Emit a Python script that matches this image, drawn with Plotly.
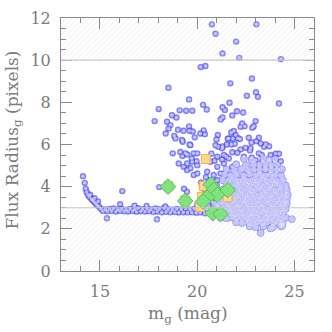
import plotly.graph_objects as go

# magnitude / flux-radius ranges of the plot
mag_range = [13, 26]
rad_range = [0, 12]
# radius zones flagged as unreliable (hatched)
bad_zones = [(0, 3), (10, 12)]

# stellar locus: head of the sequence (bright, saturated)
head_mag = [14.13, 14.22, 14.27, 14.32, 14.38, 14.45, 14.50, 14.56, 14.62, 14.70,
            14.78, 14.86, 14.95, 14.72, 14.90]
head_rad = [4.50, 4.18, 3.90, 3.75, 3.62, 3.52, 3.62, 3.42, 3.35, 3.28,
            3.20, 3.12, 3.05, 3.45, 3.30]

# stellar locus, upper and lower edge of the band
band_top_mag = [15.05, 15.28, 15.50, 15.70, 15.92, 16.12, 16.35, 16.55, 16.78, 16.95,
                17.20, 17.42, 17.62, 17.85, 18.05, 18.30, 18.50, 18.72, 18.95, 19.18,
                19.40, 19.62, 19.85, 20.05, 20.30]
band_top_rad = [2.95, 2.92, 2.94, 2.97, 2.92, 2.94, 2.91, 2.94, 2.92, 2.98,
                2.93, 2.96, 2.92, 2.97, 2.93, 2.98, 2.93, 2.91, 2.94, 2.92,
                2.95, 2.92, 2.94, 2.93, 2.95]
band_low_mag = [15.15, 15.38, 15.60, 15.82, 16.02, 16.25, 16.45, 16.68, 16.88, 17.10,
                17.32, 17.52, 17.75, 17.95, 18.18, 18.40, 18.62, 18.85, 19.05, 19.28,
                19.50, 19.72, 19.95, 20.15, 20.40]
band_low_rad = [2.85, 2.83, 2.84, 2.82, 2.85, 2.83, 2.82, 2.84, 2.81, 2.83,
                2.82, 2.83, 2.80, 2.82, 2.79, 2.81, 2.79, 2.80, 2.77, 2.79,
                2.78, 2.79, 2.76, 2.78, 2.74]

# stray sources near the locus
stray_mag = [15.36, 16.04, 16.15, 17.93, 18.05, 16.78, 17.40, 18.36, 19.32, 19.47]
stray_rad = [2.50, 3.17, 3.79, 2.46, 3.98, 3.10, 3.08, 3.06, 3.90, 3.76]

# sparse large sources (radius > 7)
big_mag = [20.75, 23.04, 20.94, 22.00, 21.30, 22.16, 24.30, 20.18, 20.42, 22.81,
           21.70, 18.52, 23.02, 23.12, 22.55, 19.58, 24.20, 21.66, 20.30, 20.49,
           21.30, 21.42, 18.02, 19.10, 19.43, 19.75, 22.04, 22.36, 17.81, 18.70,
           18.93, 21.30, 21.20, 21.80, 23.00, 18.45, 22.31]
big_rad = [11.70, 11.70, 11.25, 10.88, 10.32, 10.11, 10.05, 9.67, 9.72, 9.13,
           8.90, 8.69, 8.48, 8.26, 8.31, 8.14, 7.95, 7.98, 7.88, 7.66,
           7.77, 7.64, 7.68, 7.62, 7.60, 7.60, 7.58, 7.52, 7.11, 7.39,
           7.28, 7.28, 7.19, 7.38, 7.11, 7.08, 7.00]

# resolved sources, radius 4.3 - 7
mid_mag = [18.62, 18.53, 18.38, 19.01, 19.30, 19.58, 19.61, 19.77, 18.82, 19.87,
           20.16, 20.39, 20.33, 21.06, 20.99, 19.25, 19.61, 18.74, 19.13, 19.48,
           19.82, 19.24, 19.72, 20.89, 21.28, 21.49, 21.08, 21.30, 20.73, 19.96,
           21.52, 21.57, 22.90, 22.83, 22.43, 22.23, 21.75, 21.88, 21.97, 22.09,
           22.19, 21.62, 21.75, 21.83, 22.65, 23.17, 22.79, 23.04, 23.26, 23.52,
           23.69, 21.93, 22.23, 22.48, 22.71, 21.80, 22.06, 23.17, 23.31, 23.77,
           24.03, 24.20, 23.69, 23.96, 24.29, 22.40, 22.80, 23.00, 23.35, 18.88,
           19.22, 19.65, 20.94, 21.28, 22.74, 23.43, 19.39, 19.05, 19.30, 19.48,
           20.00, 19.74, 20.00, 20.00, 19.82, 19.48, 19.65, 21.03, 21.37, 21.62,
           20.68, 21.03, 21.37, 21.80, 20.51, 20.85, 21.20, 21.03, 20.60]
mid_rad = [6.92, 6.76, 6.52, 6.70, 6.65, 6.86, 6.65, 6.62, 6.40, 6.34,
           6.52, 6.49, 6.67, 6.45, 6.24, 6.13, 6.00, 5.58, 5.65, 5.53,
           5.58, 5.45, 5.34, 5.23, 5.29, 5.42, 5.89, 5.91, 5.56, 5.21,
           6.00, 6.27, 6.87, 6.79, 6.87, 6.84, 6.57, 6.64, 6.45, 6.30,
           6.26, 6.29, 6.00, 6.29, 6.32, 6.32, 6.10, 6.16, 6.05, 6.00,
           5.92, 6.03, 5.77, 5.84, 5.72, 5.63, 5.61, 5.58, 5.50, 5.50,
           5.56, 5.56, 5.26, 5.18, 5.21, 5.42, 5.37, 5.26, 5.21, 6.29,
           6.21, 5.97, 5.97, 5.82, 5.82, 5.89, 5.58, 5.10, 4.94, 5.10,
           5.58, 5.18, 5.02, 4.63, 4.55, 4.79, 4.87, 5.42, 5.50, 5.34,
           5.18, 4.94, 5.10, 4.94, 4.71, 4.55, 4.63, 4.31, 4.31]

# sources around the candidates (mag 20 - 21)
near_mag = [20.45, 20.20, 20.90, 20.60, 21.00, 20.40, 20.75, 21.05, 20.55, 20.25, 20.00]
near_rad = [4.45, 4.20, 4.25, 3.90, 4.05, 3.70, 3.30, 3.45, 3.15, 3.20, 3.15]

# dense faint cloud, upper half
cloud_hi_mag = [22.40, 22.80, 23.40, 23.70, 24.00,
                22.00, 22.50, 22.90, 23.20, 23.50, 23.80, 24.10,
                21.50, 21.90, 22.30, 22.60, 22.90, 23.20, 23.50, 23.80, 24.10, 24.35,
                21.40, 21.70, 22.00, 22.40, 22.70, 23.00, 23.25, 23.50, 23.75, 24.00, 24.30,
                21.30, 21.60, 21.85, 22.10, 22.35, 22.60, 22.85, 23.10, 23.35, 23.60, 23.85, 24.10, 24.40,
                21.50, 21.75, 22.00, 22.25, 22.50, 22.75, 23.00, 23.25, 23.50, 23.75, 24.00, 24.25, 24.55,
                21.30, 21.80, 22.05, 22.30, 22.55, 22.80, 23.05, 23.30, 23.55, 23.80, 24.05, 24.30, 24.60]
cloud_hi_rad = [5.32, 5.28, 5.33, 5.27, 5.31,
                5.06, 5.02, 5.08, 5.03, 5.07, 5.01, 5.05,
                4.82, 4.78, 4.83, 4.79, 4.81, 4.77, 4.84, 4.80, 4.78, 4.83,
                4.57, 4.53, 4.56, 4.52, 4.58, 4.54, 4.56, 4.52, 4.57, 4.55, 4.53,
                4.31, 4.28, 4.33, 4.29, 4.32, 4.27, 4.31, 4.30, 4.33, 4.28, 4.32, 4.29, 4.31,
                4.09, 4.06, 4.10, 4.07, 4.09, 4.05, 4.10, 4.07, 4.08, 4.06, 4.10, 4.07, 4.06,
                3.86, 3.83, 3.87, 3.84, 3.86, 3.83, 3.87, 3.85, 3.84, 3.87, 3.83, 3.86, 3.84]

# dense faint cloud, lower half
cloud_lo_mag = [21.20, 21.45, 21.70, 21.95, 22.20, 22.45, 22.70, 22.95, 23.20, 23.45, 23.70, 23.95, 24.20, 24.45, 24.65,
                21.10, 21.35, 21.60, 21.85, 22.10, 22.35, 22.60, 22.85, 23.10, 23.35, 23.60, 23.85, 24.10, 24.35, 24.60,
                20.90, 21.15, 21.40, 21.65, 21.90, 22.15, 22.40, 22.65, 22.90, 23.15, 23.40, 23.65, 23.90, 24.15, 24.40, 24.60,
                20.55, 20.80, 21.05, 21.30, 21.55, 21.80, 22.05, 22.30, 22.55, 22.80, 23.05, 23.30, 23.55, 23.80, 24.05, 24.30, 24.55,
                20.65, 20.90, 21.15, 21.40, 21.65, 21.90, 22.15, 22.40, 22.65, 22.90, 23.15, 23.40, 23.65, 23.90, 24.15, 24.40,
                21.20, 21.50, 21.80, 22.05, 22.30, 22.55, 22.80, 23.05, 23.30, 23.55, 23.80, 24.05, 24.30, 24.55,
                22.00, 22.30, 22.60, 22.85, 23.10, 23.35, 23.60, 23.90, 24.15, 24.40,
                22.70, 23.00, 23.40, 23.90, 24.30,
                23.26, 24.86, 23.77, 24.37]
cloud_lo_rad = [3.63, 3.60, 3.64, 3.61, 3.63, 3.60, 3.64, 3.62, 3.60, 3.63, 3.61, 3.64, 3.60, 3.63, 3.61,
                3.41, 3.38, 3.42, 3.39, 3.41, 3.38, 3.42, 3.40, 3.38, 3.41, 3.39, 3.42, 3.38, 3.41, 3.39,
                3.19, 3.16, 3.20, 3.17, 3.19, 3.16, 3.20, 3.18, 3.16, 3.19, 3.17, 3.20, 3.16, 3.19, 3.17, 3.20,
                2.97, 2.94, 2.98, 2.95, 2.97, 2.94, 2.98, 2.95, 2.97, 2.94, 2.96, 2.98, 2.94, 2.97, 2.95, 2.98, 2.94,
                2.75, 2.72, 2.76, 2.73, 2.75, 2.72, 2.76, 2.74, 2.72, 2.75, 2.73, 2.76, 2.72, 2.75, 2.73, 2.76,
                2.53, 2.50, 2.54, 2.51, 2.53, 2.50, 2.54, 2.52, 2.50, 2.53, 2.51, 2.54, 2.50, 2.53,
                2.31, 2.28, 2.32, 2.29, 2.31, 2.28, 2.32, 2.29, 2.31, 2.28,
                2.11, 2.08, 2.12, 2.09, 2.11,
                1.80, 2.46, 2.02, 2.18]

# candidates: two selections
cand_sq_mag = [20.44, 18.52, 20.34, 20.25, 20.14, 19.38, 21.56]
cand_sq_rad = [5.31, 4.02, 4.03, 3.52, 3.04, 3.34, 3.50]
cand_di_mag = [18.50, 19.38, 20.70, 20.86, 21.02, 20.50, 20.30, 21.57, 20.80, 21.20]
cand_di_rad = [4.00, 3.32, 4.10, 3.86, 3.62, 3.48, 3.30, 3.84, 2.74, 2.70]

open_mag = (head_mag + band_top_mag + band_low_mag + stray_mag + big_mag + mid_mag
            + near_mag)
open_rad = (head_rad + band_top_rad + band_low_rad + stray_rad + big_rad + mid_rad
            + near_rad)
cloud_mag = cloud_hi_mag + cloud_lo_mag
cloud_rad = cloud_hi_rad + cloud_lo_rad

all_mag = open_mag + cloud_mag
all_rad = open_rad + cloud_rad
ring_size = [6.4] * len(open_mag) + [7.4] * len(cloud_mag)
fill_size = [3.5] * len(open_mag) + [6.2] * len(cloud_mag)

font = "DejaVu Serif"
grey = "#8a8a8a"
txt = "#7c7c7c"

fig = go.Figure()

# outline layer then fill layer, so overlapping circles merge
fig.add_trace(go.Scatter(x=all_mag, y=all_rad, mode="markers", showlegend=False,
                         marker=dict(size=ring_size, color="#4a4afa", line=dict(width=0))))
fig.add_trace(go.Scatter(x=all_mag, y=all_rad, mode="markers", showlegend=False,
                         marker=dict(size=fill_size, color="#e2e2fa", line=dict(width=0))))

# hatched zones, drawn over the points
for lo, hi in bad_zones:
    fig.add_trace(go.Scatter(
        x=[mag_range[0], mag_range[1], mag_range[1], mag_range[0], mag_range[0]],
        y=[lo, lo, hi, hi, lo], mode="lines", fill="toself",
        line=dict(width=0), hoverinfo="skip", showlegend=False,
        fillcolor="rgba(0,0,0,0)",
        fillpattern=dict(shape="/", fgcolor="#d6d6d6", bgcolor="rgba(0,0,0,0)",
                         size=4, solidity=0.22)))

fig.add_trace(go.Scatter(x=cand_sq_mag, y=cand_sq_rad, mode="markers", showlegend=False,
                         marker=dict(symbol="square", size=9, color="#f8d98e",
                                     line=dict(color="#f0b055", width=1))))
fig.add_trace(go.Scatter(x=cand_di_mag, y=cand_di_rad, mode="markers", showlegend=False,
                         marker=dict(symbol="diamond", size=12, color="#80e47e",
                                     line=dict(color="#5cbc5c", width=1))))

for lo, hi in bad_zones:
    edge = hi if lo == 0 else lo
    fig.add_hline(y=edge, line=dict(color="#c8c8c8", width=1.2), layer="above")

axis_common = dict(
    showgrid=False, zeroline=False, showline=True, linecolor=grey, linewidth=1,
    mirror="ticks", ticks="inside", ticklen=11, tickcolor=grey, tickwidth=1,
    tickfont=dict(family=font, size=16, color=txt), automargin=False,
)

fig.update_xaxes(range=mag_range, tick0=0, dtick=5,
                 minor=dict(dtick=1, ticks="inside", ticklen=5, tickcolor=grey),
                 ticklabelstandoff=6, **axis_common)
fig.update_yaxes(range=rad_range, tick0=0, dtick=2,
                 minor=dict(dtick=0.5, ticks="inside", ticklen=5, tickcolor=grey),
                 ticklabelstandoff=6, **axis_common)

# axis titles placed as annotations for exact positioning
title_font = dict(family=font, size=17, color=txt)
fig.add_annotation(text="m<sub>g</sub> (mag)", xref="paper", yref="paper", x=0.5, y=0,
                   xanchor="center", yanchor="middle", yshift=-43, showarrow=False,
                   font=title_font)
fig.add_annotation(text="Flux Radius<sub>g</sub> (pixels)", xref="paper", yref="paper",
                   x=0, y=0.5, xanchor="center", yanchor="middle", xshift=-48, yshift=4,
                   textangle=-90, showarrow=False, font=title_font)

fig.update_layout(
    width=332, height=332,
    margin=dict(l=61, r=18, t=18, b=61),
    plot_bgcolor="white", paper_bgcolor="white",
    font=dict(family=font, color=txt),
)

# the page has a default body margin; drop it so the figure sits at the corner
fig.write_html("out.html", config={"displayModeBar": False},
               post_script="document.body.style.margin='0';")
